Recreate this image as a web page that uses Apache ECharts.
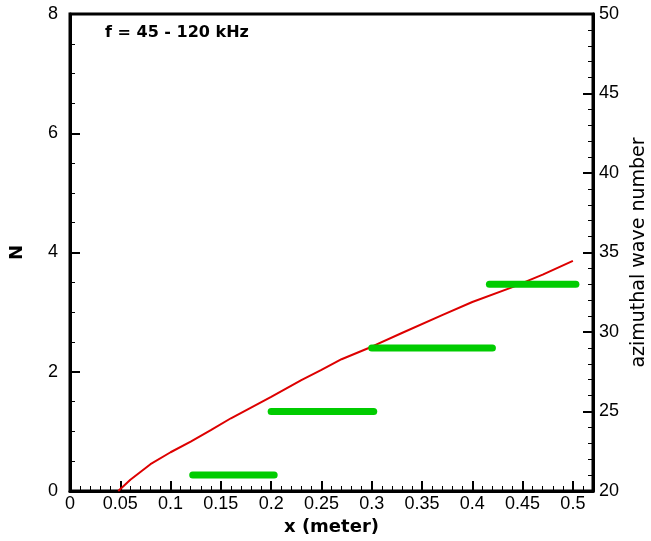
<!DOCTYPE html>
<html>
<head>
<meta charset="utf-8">
<script src="https://cdn.jsdelivr.net/npm/echarts@6/dist/echarts.min.js"></script>
<style>
	html, body { margin: 0; padding: 0; background: #fff; }
	#chart { width: 651px; height: 541px; }
</style>
</head>
<body>
<div id="chart"></div>
<script>
// red curve, N against x
const curveX = [0.048, 0.06, 0.07, 0.08, 0.1, 0.12, 0.14, 0.16, 0.18, 0.2, 0.23, 0.25, 0.27, 0.3, 0.33, 0.37, 0.4, 0.44, 0.47, 0.5]
const curveN = [0, 0.19, 0.32, 0.45, 0.65, 0.83, 1.02, 1.22, 1.4, 1.58, 1.86, 2.03, 2.21, 2.42, 2.65, 2.95, 3.17, 3.42, 3.63, 3.86]

// green segments, azimuthal wave number (right axis)
const segStart = [0.122, 0.2, 0.3, 0.417]
const segEnd = [0.203, 0.302, 0.42, 0.503]
const segLevel = [21, 25, 29, 33]

const label = 'f = 45 - 120 kHz'

const font = 'Liberation Sans, Arial, sans-serif'
const wide = 'DejaVu Sans, Verdana, sans-serif'
const black = '#000'

let chart = echarts.init(document.getElementById('chart'))

let segSeries = segLevel.map((lv, i) => ({
	type: 'line',
	xAxisIndex: 0,
	yAxisIndex: 1,
	symbol: 'none',
	silent: true,
	lineStyle: { color: '#00cc00', width: 7, cap: 'round' },
	data: [[segStart[i], lv], [segEnd[i], lv]],
}))

let option = {
	animation: false,
	backgroundColor: '#fff',
	grid: {
		left: 70, right: 58, top: 14, bottom: 50,
		outerBoundsMode: 'none',
		containLabel: false,
		show: true,
		borderColor: black,
		borderWidth: 3,
		backgroundColor: 'transparent',
	},
	graphic: [{
		type: 'text',
		left: 105,
		top: 25,
		style: { text: label, font: 'bold 16px ' + wide, fill: black },
	}],
	xAxis: {
		type: 'value',
		min: 0,
		max: 0.52,
		interval: 0.05,
		name: 'x (meter)',
		nameLocation: 'middle',
		nameGap: 21,
		nameTextStyle: { fontFamily: wide, fontSize: 18, fontWeight: 'bold', color: black },
		axisLine: { show: true, lineStyle: { color: black, width: 3 } },
		axisTick: { inside: true, length: 10, lineStyle: { color: black, width: 2 } },
		minorTick: { show: true, splitNumber: 5, length: 5, lineStyle: { color: black, width: 1 } },
		splitLine: { show: false },
		axisLabel: {
			fontFamily: font, fontSize: 18, color: black, margin: 4,
			showMaxLabel: false,
			formatter: v => String(+v.toFixed(2)),
		},
	},
	yAxis: [{
		type: 'value',
		min: 0,
		max: 8,
		interval: 2,
		position: 'left',
		name: 'N',
		nameLocation: 'middle',
		nameGap: 44,
		nameRotate: 90,
		nameTextStyle: { fontFamily: wide, fontSize: 18, fontWeight: 'bold', color: black },
		axisLine: { show: true, lineStyle: { color: black, width: 3 } },
		axisTick: { inside: true, length: 10, lineStyle: { color: black, width: 2 } },
		minorTick: { show: true, splitNumber: 4, length: 5, lineStyle: { color: black, width: 1 } },
		splitLine: { show: false },
		axisLabel: { fontFamily: font, fontSize: 18, color: black, margin: 12 },
	}, {
		type: 'value',
		min: 20,
		max: 50,
		interval: 5,
		position: 'right',
		name: 'azimuthal wave number',
		nameLocation: 'middle',
		nameGap: 35,
		nameRotate: 90,
		nameTextStyle: { fontFamily: wide, fontSize: 19, color: black },
		axisLine: { show: true, lineStyle: { color: black, width: 3 } },
		axisTick: { inside: true, length: 10, lineStyle: { color: black, width: 2 } },
		minorTick: { show: true, splitNumber: 5, length: 5, lineStyle: { color: black, width: 1 } },
		splitLine: { show: false },
		axisLabel: { fontFamily: font, fontSize: 18, color: black, margin: 6 },
	}],
	series: [{
		type: 'line',
		xAxisIndex: 0,
		yAxisIndex: 0,
		symbol: 'none',
		silent: true,
		lineStyle: { color: '#dd0000', width: 2 },
		data: curveX.map((x, i) => [x, curveN[i]]),
	}].concat(segSeries),
}

chart.setOption(option)
</script>
</body>
</html>
